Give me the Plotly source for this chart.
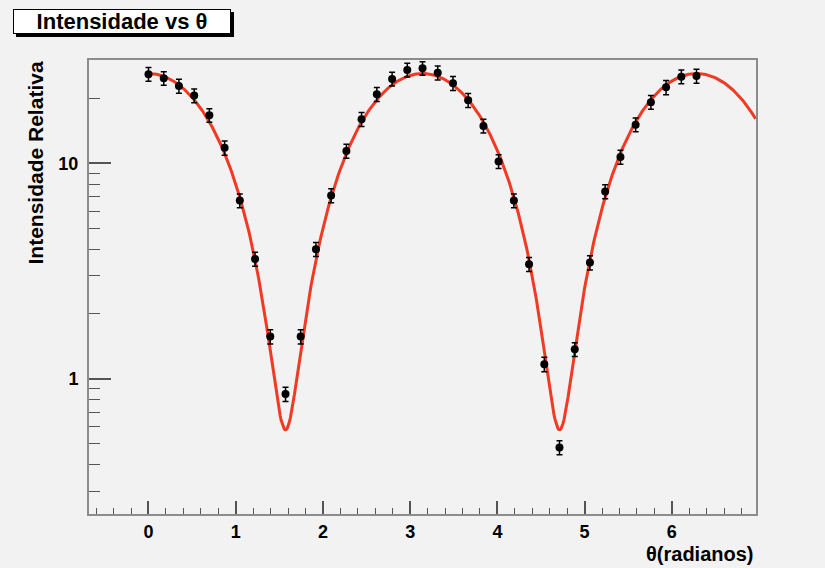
import numpy as np
import plotly.graph_objects as go

# ---- data ----
theta = [0.000, 0.175, 0.349, 0.524, 0.698, 0.873, 1.047, 1.222, 1.396, 1.571,
         1.745, 1.920, 2.094, 2.269, 2.443, 2.618, 2.793, 2.967, 3.142, 3.316,
         3.491, 3.665, 3.840, 4.014, 4.189, 4.363, 4.538, 4.712, 4.887, 5.061,
         5.236, 5.411, 5.585, 5.760, 5.934, 6.109, 6.283]
intensity = [25.9, 24.8, 22.8, 20.6, 16.7, 11.8, 6.71, 3.60, 1.57, 0.85,
             1.57, 3.99, 7.08, 11.4, 16.0, 20.9, 24.6, 27.1, 27.6, 26.3,
             23.5, 19.6, 14.9, 10.2, 6.71, 3.40, 1.17, 0.48, 1.37, 3.46,
             7.39, 10.7, 15.1, 19.2, 22.5, 25.2, 25.4]
errors = [1.9, 1.8, 1.7, 1.5, 1.2, 0.9, 0.5, 0.27, 0.12, 0.065,
          0.12, 0.3, 0.53, 0.85, 1.2, 1.55, 1.8, 2.0, 2.0, 1.95,
          1.75, 1.45, 1.1, 0.75, 0.5, 0.25, 0.09, 0.036, 0.1, 0.26,
          0.55, 0.8, 1.1, 1.4, 1.7, 1.85, 1.9]
# fit: I = A*cos^2(theta) + B
fit_A = 25.5
fit_B = 0.58
fit_range = [0.0, 6.96]

x_range = [-0.682, 6.965]
y_range_log = [-0.627, 1.479]

# ---- layout helpers (pixel -> paper) ----
W, H = 825, 568
L, R, T, B = 89, 69, 60, 54
PW, PH = W - L - R, H - T - B


def px(xp):
    return (xp - L) / PW


def py(yp):
    return 1 - (yp - T) / PH


fx = np.linspace(fit_range[0], fit_range[1], 600)
fy = fit_A * np.cos(fx) ** 2 + fit_B

fig = go.Figure()
fig.add_trace(go.Scatter(
    x=fx, y=fy, mode="lines",
    line=dict(color="#f03a24", width=3),
    hoverinfo="skip", showlegend=False,
))
fig.add_trace(go.Scatter(
    x=theta, y=intensity, mode="markers",
    marker=dict(color="black", size=8, symbol="circle"),
    error_y=dict(type="data", array=errors, visible=True,
                 color="black", thickness=1.5, width=3),
    showlegend=False,
))

font_family = "Liberation Sans, Arial, sans-serif"
axcol = "#8c8c8c"

fig.update_layout(
    width=W, height=H,
    margin=dict(l=L, r=R, t=T, b=B, pad=0),
    paper_bgcolor="#f2f2f2",
    plot_bgcolor="#f2f2f2",
    font=dict(family=font_family, color="black", size=18, weight=700),
    showlegend=False,
    xaxis=dict(
        range=x_range, showgrid=False, zeroline=False,
        showline=True, linecolor=axcol, linewidth=2, mirror=True,
        ticks="inside", ticklen=13, tickwidth=1.5, tickcolor="#555",
        dtick=1, tick0=0,
        tickfont=dict(size=18, family=font_family, weight=700),
        minor=dict(ticks="inside", ticklen=6, tickwidth=1, tickcolor="#555", dtick=0.2),
    ),
    yaxis=dict(
        type="log", range=y_range_log, showgrid=False, zeroline=False,
        showline=True, linecolor=axcol, linewidth=2, mirror=True,
        ticks="inside", ticklen=22, tickwidth=1.5, tickcolor="#555",
        tickvals=[1, 10], ticktext=["1", "10"],
        ticklabelstandoff=5,
        tickfont=dict(size=18, family=font_family, weight=700),
        minor=dict(ticks="inside", ticklen=11, tickwidth=1, tickcolor="#555",
                   tickvals=[0.3, 0.4, 0.5, 0.6, 0.7, 0.8, 0.9,
                             2, 3, 4, 5, 6, 7, 8, 9, 20, 30]),
    ),
)

# title box shadow + box
fig.add_shape(type="rect", xref="paper", yref="paper",
              x0=px(16), x1=px(234), y0=py(12), y1=py(37),
              fillcolor="black", line=dict(width=0), layer="above")
fig.add_annotation(
    xref="paper", yref="paper", x=px(13), y=py(9),
    xanchor="left", yanchor="top", showarrow=False,
    text="Intensidade vs θ", width=216, height=23, align="center",
    bgcolor="white", bordercolor="black", borderwidth=1, borderpad=0,
    font=dict(size=22, family=font_family, weight=700, color="black"),
)

# axis titles
fig.add_annotation(
    xref="paper", yref="paper", x=1, y=py(554),
    xanchor="right", yanchor="middle", showarrow=False,
    text="θ(radianos)",
    font=dict(size=20, family=font_family, weight=700, color="black"),
)
fig.add_annotation(
    xref="paper", yref="paper", x=px(35), y=1,
    xanchor="center", yanchor="top", showarrow=False, textangle=-90,
    text="Intensidade Relativa",
    font=dict(size=21, family=font_family, weight=700, color="black"),
)

fig.write_html("out.html")
